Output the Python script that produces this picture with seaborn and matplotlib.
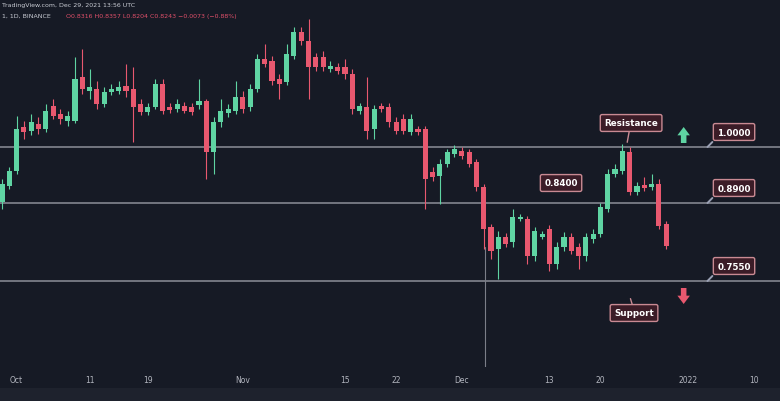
import numpy as np
import pandas as pd
import matplotlib
matplotlib.use('Agg')
import matplotlib.pyplot as plt
import seaborn as sns
from matplotlib.patches import Rectangle

# daily candles, first one on 2021-09-29
start_date = '2021-09-29'
opens = [0.884, 0.916, 0.946, 1.034, 1.026, 1.040, 1.030, 1.076, 1.060, 1.046,
         1.046, 1.134, 1.106, 1.110, 1.080, 1.104, 1.106, 1.116, 1.110, 1.080,
         1.064, 1.074, 1.120, 1.074, 1.070, 1.076, 1.074, 1.078, 1.086, 0.984,
         1.044, 1.062, 1.066, 1.094, 1.074, 1.110, 1.170, 1.166, 1.130, 1.124,
         1.176, 1.224, 1.206, 1.174, 1.174, 1.150, 1.154, 1.154, 1.140, 1.066,
         1.074, 1.030, 1.076, 1.074, 1.044, 1.050, 1.024, 1.030, 1.030, 0.944,
         0.936, 0.960, 0.980, 0.986, 0.984, 0.964, 0.914, 0.834, 0.790, 0.814,
         0.804, 0.850, 0.850, 0.776, 0.814, 0.830, 0.760, 0.794, 0.814, 0.794,
         0.776, 0.810, 0.820, 0.870, 0.940, 0.946, 0.984, 0.904, 0.918, 0.914,
         0.920, 0.840]
highs = [0.930, 0.954, 1.056, 1.046, 1.060, 1.054, 1.080, 1.090, 1.070, 1.066,
         1.174, 1.190, 1.150, 1.126, 1.114, 1.120, 1.126, 1.160, 1.154, 1.090,
         1.082, 1.130, 1.130, 1.082, 1.090, 1.084, 1.082, 1.130, 1.090, 1.054,
         1.090, 1.080, 1.126, 1.106, 1.120, 1.180, 1.200, 1.176, 1.140, 1.200,
         1.234, 1.234, 1.250, 1.182, 1.186, 1.166, 1.162, 1.170, 1.150, 1.082,
         1.134, 1.078, 1.082, 1.082, 1.054, 1.060, 1.060, 1.036, 1.036, 0.954,
         0.970, 0.990, 0.998, 0.994, 0.990, 0.970, 0.920, 0.840, 0.826, 0.822,
         0.870, 0.860, 0.856, 0.834, 0.826, 0.838, 0.804, 0.824, 0.822, 0.802,
         0.822, 0.830, 0.882, 0.950, 0.960, 1.000, 0.994, 0.924, 0.934, 0.940,
         0.930, 0.846]
lows = [0.870, 0.910, 0.940, 1.010, 1.018, 1.020, 1.024, 1.050, 1.040, 1.036,
        1.042, 1.100, 1.090, 1.070, 1.074, 1.098, 1.100, 1.094, 1.004, 1.058,
        1.058, 1.070, 1.060, 1.062, 1.064, 1.062, 1.058, 1.070, 0.930, 0.940,
        1.034, 1.054, 1.060, 1.062, 1.066, 1.104, 1.154, 1.118, 1.090, 1.118,
        1.170, 1.198, 1.090, 1.146, 1.146, 1.144, 1.140, 1.130, 1.060, 1.060,
        1.010, 1.010, 1.064, 1.034, 1.020, 1.020, 1.018, 1.018, 0.870, 0.926,
        0.880, 0.954, 0.974, 0.970, 0.954, 0.906, 0.790, 0.770, 0.730, 0.794,
        0.794, 0.846, 0.760, 0.766, 0.810, 0.746, 0.750, 0.786, 0.780, 0.750,
        0.766, 0.802, 0.814, 0.864, 0.934, 0.940, 0.898, 0.898, 0.906, 0.908,
        0.830, 0.790]
closes = [0.920, 0.946, 1.030, 1.024, 1.044, 1.030, 1.066, 1.056, 1.050, 1.056,
          1.130, 1.110, 1.114, 1.080, 1.104, 1.110, 1.114, 1.106, 1.074, 1.064,
          1.074, 1.120, 1.066, 1.068, 1.080, 1.066, 1.064, 1.086, 0.984, 1.044,
          1.066, 1.070, 1.094, 1.070, 1.110, 1.170, 1.160, 1.126, 1.120, 1.180,
          1.224, 1.206, 1.154, 1.154, 1.154, 1.156, 1.146, 1.140, 1.070, 1.076,
          1.026, 1.070, 1.070, 1.044, 1.026, 1.026, 1.050, 1.024, 0.930, 0.934,
          0.960, 0.984, 0.990, 0.976, 0.960, 0.914, 0.830, 0.786, 0.814, 0.800,
          0.854, 0.854, 0.776, 0.826, 0.820, 0.760, 0.794, 0.814, 0.786, 0.776,
          0.814, 0.820, 0.874, 0.940, 0.950, 0.986, 0.904, 0.916, 0.912, 0.920,
          0.836, 0.796]

tick_dates = ['2021-10-01', '2021-10-11', '2021-10-19', '2021-11-01', '2021-11-15',
              '2021-11-22', '2021-12-01', '2021-12-13', '2021-12-20', '2022-01-01',
              '2022-01-10']
tick_labels = ['Oct', '11', '19', 'Nov', '15', '22', 'Dec', '13', '20', '2022', '10']

level_values = [0.994, 0.882, 0.726]
level_labels = ['1.0000', '0.8900', '0.7550']

BG = '#161a25'
UP = '#5fd4a3'
DOWN = '#e8586f'

sns.set_theme(style='dark', rc={'axes.facecolor': BG, 'figure.facecolor': BG})
plt.rcParams['font.family'] = ['DejaVu Sans']

df = pd.DataFrame({'open': opens, 'high': highs, 'low': lows, 'close': closes})
df['date'] = pd.date_range(start_date, periods=len(df), freq='D')
df['i'] = (df['date'] - pd.Timestamp(start_date)).dt.days
df['up'] = df['close'] >= df['open']
df['color'] = np.where(df['up'], UP, DOWN)

fig = plt.figure(figsize=(7.8, 4.02), dpi=100)
ax = fig.add_axes([0, 34 / 402, 1, 368 / 402])
ax.set_facecolor(BG)

# bottom strip
fig.patches.append(Rectangle((0, 0), 1, 13 / 402, transform=fig.transFigure,
                             facecolor='#1e222d', edgecolor='none', zorder=0))

# level lines
for v in level_values:
    ax.axhline(v, color='#8c8f99', lw=1.1, zorder=1)

# crosshair
ax.axvline(66.2, ymin=0, ymax=(0.794 - 0.554) / (1.29 - 0.554), color='#7b7e88', lw=0.8, zorder=1)

# candles
ax.vlines(df['i'], df['low'], df['high'], colors=df['color'], lw=0.8, zorder=2)
body_bottom = df[['open', 'close']].min(axis=1)
body_height = (df['close'] - df['open']).abs().clip(lower=0.004)
ax.bar(df['i'], body_height, bottom=body_bottom, width=0.7, color=df['color'],
       edgecolor='none', zorder=3)

ax.set_xlim(-0.27, 106.6)
ax.set_ylim(0.554, 1.29)

tick_pos = [(pd.Timestamp(d) - pd.Timestamp(start_date)).days for d in tick_dates]
ax.set_xticks(tick_pos)
ax.set_xticklabels(tick_labels, color='#b2b5be', fontsize=5.5)
ax.set_yticks([])
ax.tick_params(axis='x', length=0, pad=6)
for s in ax.spines.values():
    s.set_visible(False)
ax.grid(False)

box = dict(boxstyle='round,pad=0.45,rounding_size=0.2', facecolor='#3b1c27',
           edgecolor='#c98a93', lw=1.0)
txt = dict(color='white', fontsize=6.3, fontweight='bold', ha='center', va='center', zorder=6)

# resistance / support callouts
ax.annotate('', xy=(85.6, 0.998), xytext=(86.0, 1.030),
            arrowprops=dict(arrowstyle='-', color='#c98a93', lw=1.0), zorder=5)
ax.text(86.2, 1.042, 'Resistance', bbox=box, **txt)
ax.annotate('', xy=(86.0, 0.696), xytext=(86.5, 0.672),
            arrowprops=dict(arrowstyle='-', color='#c98a93', lw=1.0), zorder=5)
ax.text(86.6, 0.662, 'Support', bbox=box, **txt)
ax.text(76.6, 0.922, '0.8400', bbox=box, **txt)

# right level labels
for v, lab in zip(level_values, level_labels):
    ax.annotate('', xy=(96.4, v - 0.004), xytext=(97.6, v + 0.014),
                arrowprops=dict(arrowstyle='-', color='#9aa0b4', lw=1.4), zorder=5)
    ax.text(100.3, v + 0.030, lab, bbox=box, **txt)

# arrows
arrow_style = 'simple,head_width=0.9,head_length=0.6,tail_width=0.4'
ax.annotate('', xy=(93.4, 1.034), xytext=(93.4, 1.002),
            arrowprops=dict(arrowstyle=arrow_style, color=UP, lw=0, mutation_scale=10,
                            shrinkA=0, shrinkB=0))
ax.annotate('', xy=(93.4, 0.680), xytext=(93.4, 0.712),
            arrowprops=dict(arrowstyle=arrow_style, color=DOWN, lw=0, mutation_scale=10,
                            shrinkA=0, shrinkB=0))

# header text
fig.text(0.002, 0.992, 'TradingView.com, Dec 29, 2021 13:56 UTC', color='#c9ccd4',
         fontsize=4.5, va='top', ha='left')
fig.text(0.002, 0.965, '1, 1D, BINANCE', color='#c9ccd4', fontsize=4.5, va='top', ha='left')
fig.text(0.085, 0.965, 'O0.8316 H0.8357 L0.8204 C0.8243 \u22120.0073 (\u22120.88%)',
         color='#e0506a', fontsize=4.5, va='top', ha='left')

fig.savefig('out.png', dpi=100, facecolor=BG)
